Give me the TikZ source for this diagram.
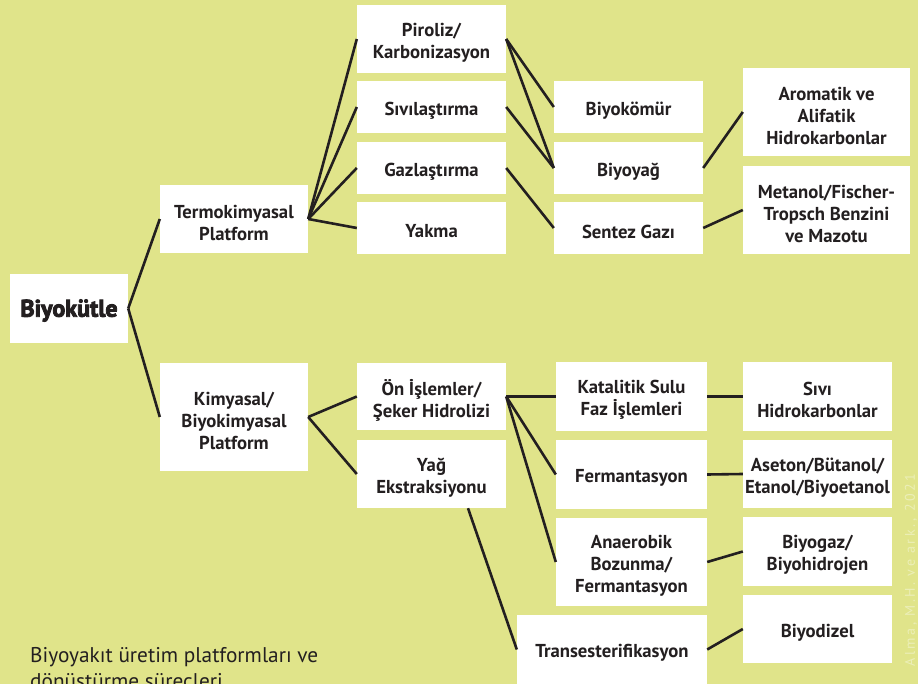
\documentclass[tikz,border=0pt]{standalone}
\usepackage{fontspec}
\setmainfont{PT Sans}
\newfontfamily\heavyfont{PT Sans}[BoldFeatures={FakeBold=3.5}]
\newfontfamily\creditfont{PT Sans}[LetterSpace=18]
\usetikzlibrary{calc}
\definecolor{bg}{RGB}{224,228,138}
\definecolor{ink}{RGB}{35,31,32}
\definecolor{credit}{RGB}{236,239,184}
\begin{document}
\begin{tikzpicture}[x=1pt,y=-1pt,
  box/.style={fill=white, draw=none, inner sep=0pt},
  lbl/.style={align=center, inner sep=0pt, yshift=-3.5pt,
    font=\bfseries\fontsize{18.7}{22}\selectfont, text=ink},
  link/.style={draw=ink, line width=2.6pt}]
\fill[bg] (0,0) rectangle (918,684);
\useasboundingbox (0,0) rectangle (918,684);

\node[box, minimum width=118pt, minimum height=69pt, label={[lbl, yshift=1.5pt, font=\heavyfont\bfseries\fontsize{24}{28}\selectfont]center:Biyokütle}] (bio) at (69,308.5) {};
\node[box, minimum width=148pt, minimum height=68pt, label={[lbl]center:{Termokimyasal\\Platform}}] (termo) at (234,219) {};
\node[box, minimum width=148pt, minimum height=108pt, label={[lbl]center:{Kimyasal/\\Biyokimyasal\\Platform}}] (kimya) at (234,417) {};

\node[box, minimum width=149pt, minimum height=68pt, label={[lbl]center:{Piroliz/\\Karbonizasyon}}] (piroliz) at (431.5,39) {};
\node[box, minimum width=149pt, minimum height=52pt, label={[lbl]center:Sıvılaştırma}] (sivi) at (431.5,107) {};
\node[box, minimum width=149pt, minimum height=52pt, label={[lbl]center:Gazlaştırma}] (gaz) at (431.5,168) {};
\node[box, minimum width=149pt, minimum height=52pt, label={[lbl]center:Yakma}] (yakma) at (431.5,228) {};

\node[box, minimum width=149pt, minimum height=52pt, label={[lbl]center:Biyokömür}] (komur) at (628.5,107) {};
\node[box, minimum width=149pt, minimum height=52pt, label={[lbl]center:Biyoyağ}] (biyoyag) at (628.5,168) {};
\node[box, minimum width=149pt, minimum height=52pt, label={[lbl]center:Sentez Gazı}] (sentez) at (628.5,228) {};

\node[box, minimum width=167pt, minimum height=88pt, label={[lbl]center:{Aromatik ve\\Alifatik\\Hidrokarbonlar}}] (arom) at (826.5,112) {};
\node[box, minimum width=167pt, minimum height=88pt, label={[lbl]center:{Metanol/Fischer-\\Tropsch Benzini\\ve Mazotu}}] (metanol) at (826.5,210) {};

\node[box, minimum width=149pt, minimum height=67pt, label={[lbl]center:{Ön İşlemler/\\Şeker Hidrolizi}}] (on) at (431.5,396.5) {};
\node[box, minimum width=149pt, minimum height=68pt, label={[lbl]center:{Yağ\\Ekstraksiyonu}}] (yagex) at (431.5,474) {};

\node[box, minimum width=151pt, minimum height=69pt, label={[lbl]center:{Katalitik Sulu\\Faz İşlemleri}}] (kat) at (631.5,396.5) {};
\node[box, minimum width=151pt, minimum height=69pt, label={[lbl]center:Fermantasyon}] (ferm) at (631.5,474.5) {};
\node[box, minimum width=151pt, minimum height=88pt, label={[lbl]center:{Anaerobik\\Bozunma/\\Fermantasyon}}] (anae) at (631.5,562) {};
\node[box, minimum width=190pt, minimum height=69pt, label={[lbl]center:Transesterifikasyon}] (trans) at (612,649.5) {};

\node[box, minimum width=149pt, minimum height=69pt, label={[lbl]center:{Sıvı\\Hidrokarbonlar}}] (sivih) at (817.5,396.5) {};
\node[box, minimum width=149pt, minimum height=68pt, label={[lbl]center:{Aseton/Bütanol/\\Etanol/Biyoetanol}}] (aseton) at (817.5,474) {};
\node[box, minimum width=149pt, minimum height=69pt, label={[lbl]center:{Biyogaz/\\Biyohidrojen}}] (biyogaz) at (817.5,551.5) {};
\node[box, minimum width=149pt, minimum height=68pt, label={[lbl]center:Biyodizel}] (biyodizel) at (817.5,629) {};

\draw[link] (bio.east) -- (termo.west);
\draw[link] (bio.east) -- (kimya.west);
\foreach \t in {piroliz,sivi,gaz,yakma} \draw[link] (termo.east) -- (\t.west);
\draw[link] (piroliz.east) -- (komur.west);
\draw[link] (piroliz.east) -- (biyoyag.west);
\draw[link] (sivi.east) -- (biyoyag.west);
\draw[link] (gaz.east) -- (sentez.west);
\draw[link] (biyoyag.east) -- (arom.west);
\draw[link] (sentez.east) -- (metanol.west);
\draw[link] (kimya.east) -- (on.west);
\draw[link] (kimya.east) -- (yagex.west);
\foreach \t in {kat,ferm,anae} \draw[link] (on.east) -- (\t.west);
\draw[link] ([xshift=36.5pt]yagex.south) -- (trans.west);
\draw[link] (kat.east) -- (sivih.west);
\draw[link] (ferm.east) -- (aseton.west);
\draw[link] (anae.east) -- (biyogaz.west);
\draw[link] (trans.east) -- (biyodizel.west);

\node[anchor=north west, align=left, inner sep=0pt, text=ink, font=\fontsize{21.3}{26}\selectfont] (cap) at (30,647) {Biyoyakıt üretim platformları ve\\dönüştürme süreçleri};
\node[rotate=90, inner sep=0pt, text=credit, font=\creditfont\fontsize{14}{16}\selectfont] (credit) at (911,570) {Alma, M.H. ve ark., 2021};
\end{tikzpicture}
\end{document}
